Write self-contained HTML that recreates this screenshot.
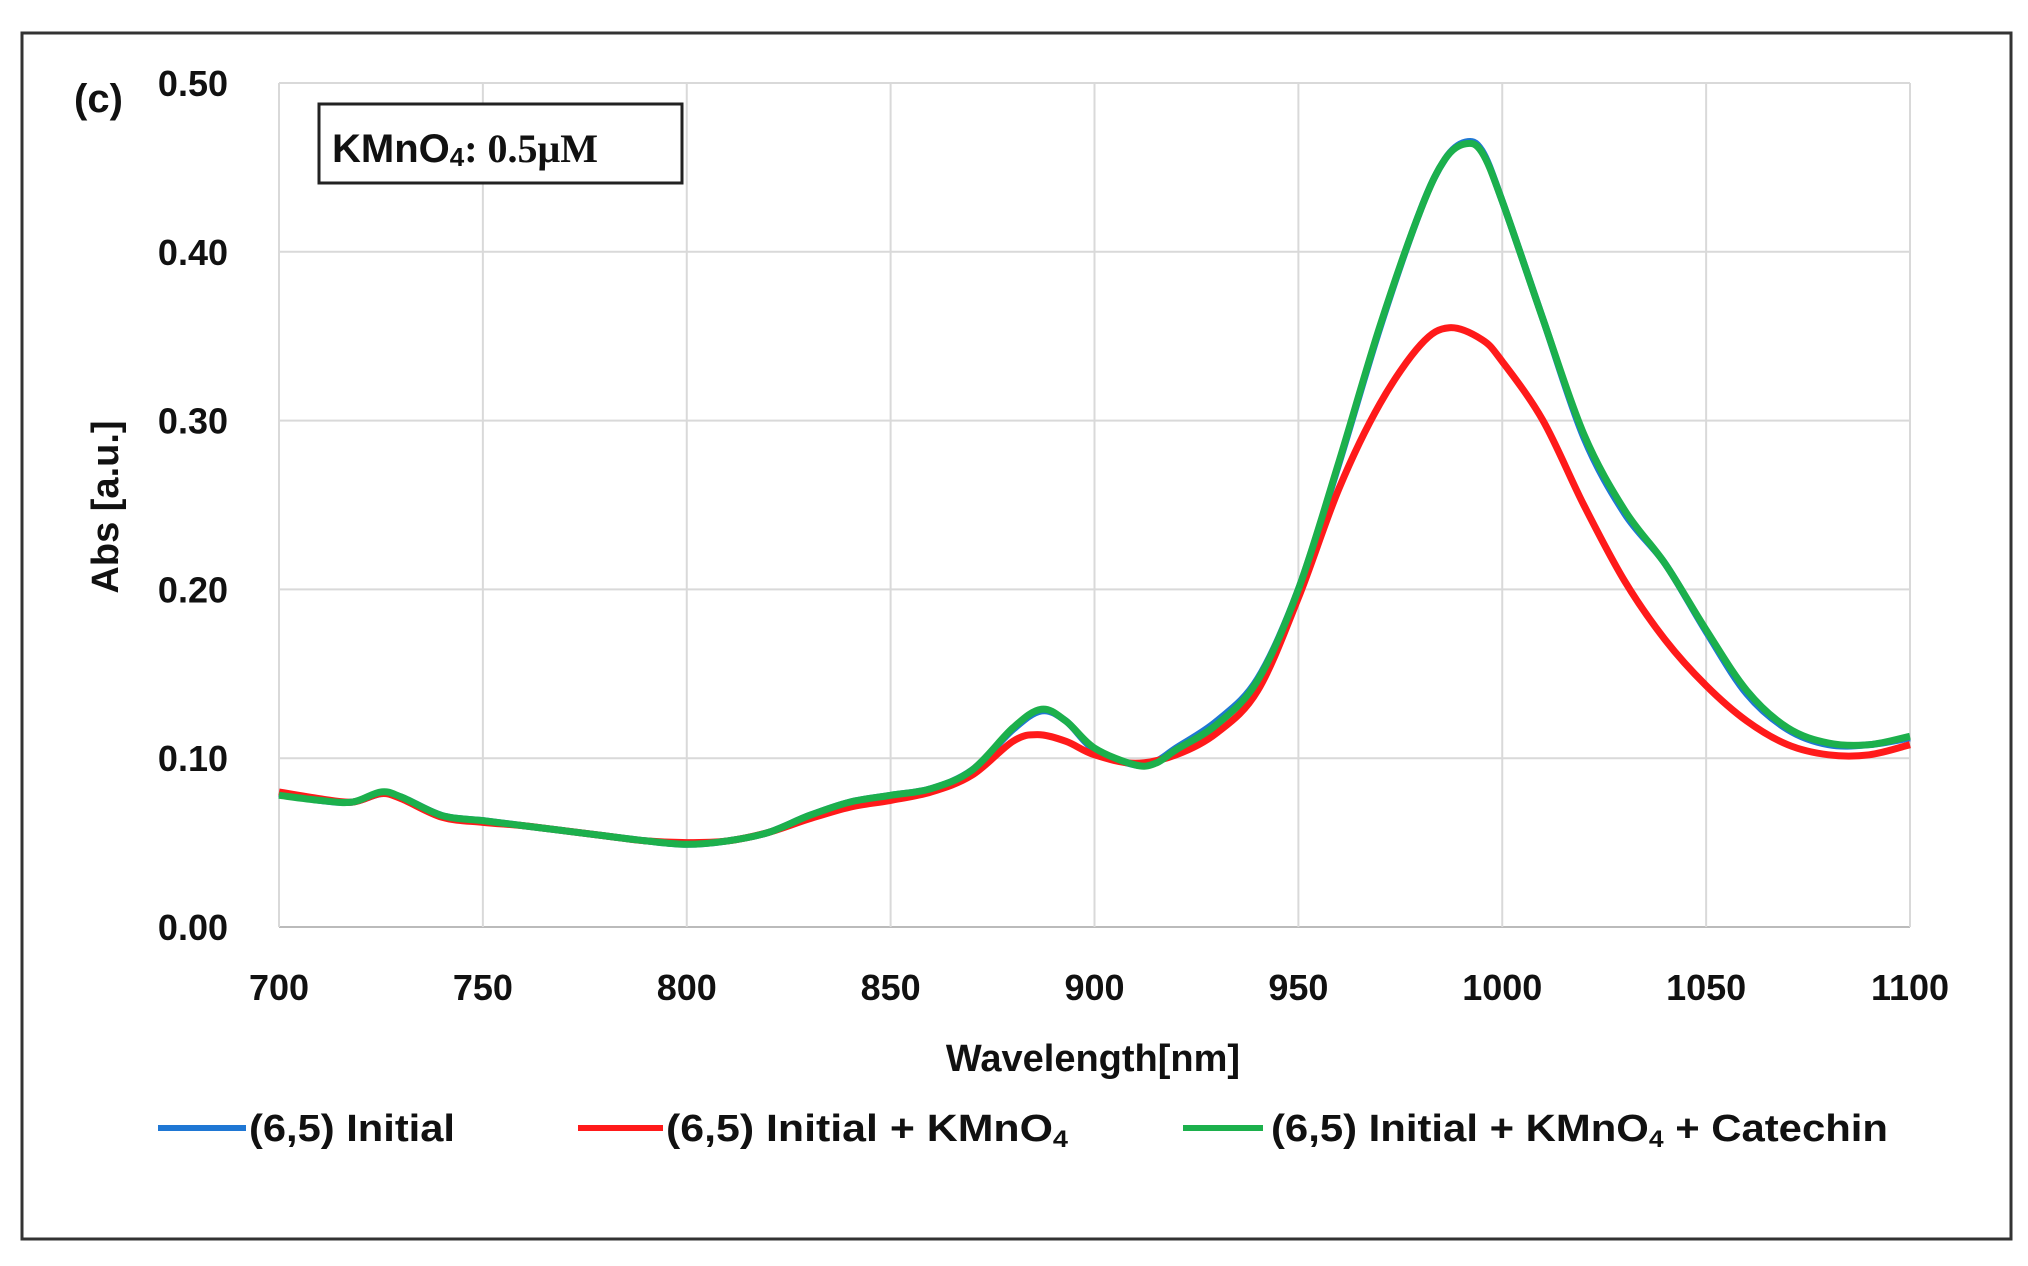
<!DOCTYPE html>
<html><head><meta charset="utf-8"><style>
html,body{margin:0;padding:0;background:#fff;}
svg{display:block;font-family:"Liberation Sans",sans-serif;}
</style></head><body>
<svg id="chart" width="2028" height="1266" viewBox="0 0 2028 1266">
<rect x="22" y="33" width="1989" height="1206" fill="#fff" stroke="#333" stroke-width="3"/>
<g id="grid"></g>
<g id="yticks"></g>
<g id="xticks"></g>
<g id="series"></g>
<text x="74" y="112" font-size="40" font-weight="bold" fill="#111">(c)</text>
<rect x="319" y="104" width="363" height="79" fill="#fff" stroke="#222" stroke-width="3"/>
<text x="332" y="162" font-size="40" font-weight="bold" fill="#111">KMnO<tspan font-size="26" dy="4">4</tspan><tspan dy="-4" font-family="Liberation Serif, serif">: 0.5μM</tspan></text>
<text x="1093" y="1071" font-size="38" font-weight="bold" text-anchor="middle" fill="#111">Wavelength[nm]</text>
<text transform="translate(118,507) rotate(-90)" font-size="38" font-weight="bold" text-anchor="middle" fill="#111">Abs [a.u.]</text>
<g>
<g>
<line x1="158" y1="1128" x2="246" y2="1128" stroke="#1f77d4" stroke-width="6"/>
<text x="249" y="1141" font-size="38" font-weight="bold" fill="#111" textLength="206" lengthAdjust="spacingAndGlyphs">(6,5) Initial</text></g>
<g>
<line x1="578" y1="1128" x2="663" y2="1128" stroke="#ff1a1a" stroke-width="6"/>
<text x="666" y="1141" font-size="38" font-weight="bold" fill="#111" textLength="402" lengthAdjust="spacingAndGlyphs">(6,5) Initial + KMnO<tspan font-size="24" dy="6">4</tspan></text></g>
<g>
<line x1="1183" y1="1128" x2="1263" y2="1128" stroke="#1cb04c" stroke-width="6"/>
<text x="1271" y="1141" font-size="38" font-weight="bold" fill="#111" textLength="617" lengthAdjust="spacingAndGlyphs">(6,5) Initial + KMnO<tspan font-size="24" dy="6">4</tspan><tspan dy="-6"> + Catechin</tspan></text></g>
</g>
</svg>
<script>
const xTicks=[700,750,800,850,900,950,1000,1050,1100];
const yTicks=[0,0.1,0.2,0.3,0.4,0.5];
const yTickLabels=["0.00","0.10","0.20","0.30","0.40","0.50"];
const wlInitial=[700,710,718,725,730,740,750,760,770,780,790,800,810,820,830,840,850,860,870,880,887,893,900,910,915,920,930,940,950,960,970,980,986,991,995,1000,1010,1020,1030,1040,1050,1060,1070,1080,1090,1100];
const absInitial=[0.079,0.075,0.074,0.079,0.077,0.066,0.063,0.060,0.057,0.054,0.051,0.049,0.051,0.056,0.066,0.074,0.078,0.082,0.093,0.117,0.128,0.122,0.105,0.096,0.098,0.106,0.122,0.147,0.200,0.275,0.355,0.425,0.455,0.465,0.460,0.430,0.360,0.290,0.245,0.215,0.175,0.138,0.117,0.108,0.108,0.112];
const absCatechin=[0.078,0.075,0.074,0.080,0.077,0.066,0.063,0.060,0.057,0.054,0.051,0.049,0.051,0.056,0.066,0.074,0.078,0.082,0.093,0.118,0.129,0.122,0.106,0.096,0.097,0.105,0.120,0.146,0.200,0.276,0.356,0.425,0.455,0.464,0.459,0.430,0.360,0.292,0.247,0.215,0.176,0.140,0.118,0.109,0.108,0.113];
const wlKMnO4=[700,710,718,725,730,740,750,760,770,780,790,800,810,820,830,840,850,860,870,880,886,893,900,910,920,930,940,950,960,970,980,987,995,1000,1010,1020,1030,1040,1050,1060,1070,1080,1090,1100];
const absKMnO4=[0.080,0.076,0.074,0.079,0.076,0.065,0.062,0.060,0.057,0.054,0.051,0.050,0.051,0.056,0.064,0.071,0.075,0.080,0.090,0.110,0.114,0.110,0.102,0.097,0.102,0.115,0.140,0.195,0.260,0.310,0.345,0.355,0.348,0.335,0.300,0.250,0.205,0.170,0.143,0.122,0.108,0.102,0.102,0.108];
const NS="http://www.w3.org/2000/svg";
const X0=279,X1=1910,Y0=927,Y1=83;
function xs(v){return X0+(v-700)/400*(X1-X0);}
function ys(v){return Y0-(v/0.5)*(Y0-Y1);}
function mk(tag,attrs,parent){const e=document.createElementNS(NS,tag);for(const k in attrs)e.setAttribute(k,attrs[k]);parent.appendChild(e);return e;}
const grid=document.getElementById('grid'),yt=document.getElementById('yticks'),xt=document.getElementById('xticks'),ser=document.getElementById('series');
yTicks.forEach((v,i)=>{
  const l=mk('line',{x1:X0,x2:X1,y1:ys(v),y2:ys(v),stroke:i===0?'#bbb':'#d9d9d9','stroke-width':2},grid);
  
  
  const t=mk('text',{x:228,y:ys(v)+13,'font-size':36,'font-weight':'bold','text-anchor':'end',fill:'#111'},yt);
  t.textContent=yTickLabels[i];
  
  
});
xTicks.forEach(v=>{
  const l=mk('line',{x1:xs(v),x2:xs(v),y1:Y1,y2:Y0,stroke:'#d9d9d9','stroke-width':2},grid);
  
  
  const t=mk('text',{x:xs(v),y:1000,'font-size':36,'font-weight':'bold','text-anchor':'middle',fill:'#111'},xt);
  t.textContent=String(v);
  
  
});
function pathD(xsArr,ysArr){
  const p=xsArr.map((x,i)=>[xs(x),ys(ysArr[i])]);
  let d='M'+p[0][0]+','+p[0][1];
  for(let i=0;i<p.length-1;i++){
    const a=p[Math.max(0,i-1)],b=p[i],c=p[i+1],e=p[Math.min(p.length-1,i+2)];
    const c1=[b[0]+(c[0]-a[0])/6,b[1]+(c[1]-a[1])/6],c2=[c[0]-(e[0]-b[0])/6,c[1]-(e[1]-b[1])/6];
    d+=' C'+c1+' '+c2+' '+c;
  }
  return d;
}
const p1=mk('path',{d:pathD(wlInitial,absInitial),fill:'none',stroke:'#1f77d4','stroke-width':7},ser);


const p2=mk('path',{d:pathD(wlKMnO4,absKMnO4),fill:'none',stroke:'#ff1a1a','stroke-width':7},ser);


const p3=mk('path',{d:pathD(wlInitial,absCatechin),fill:'none',stroke:'#1cb04c','stroke-width':7},ser);


</script>
</body></html>
